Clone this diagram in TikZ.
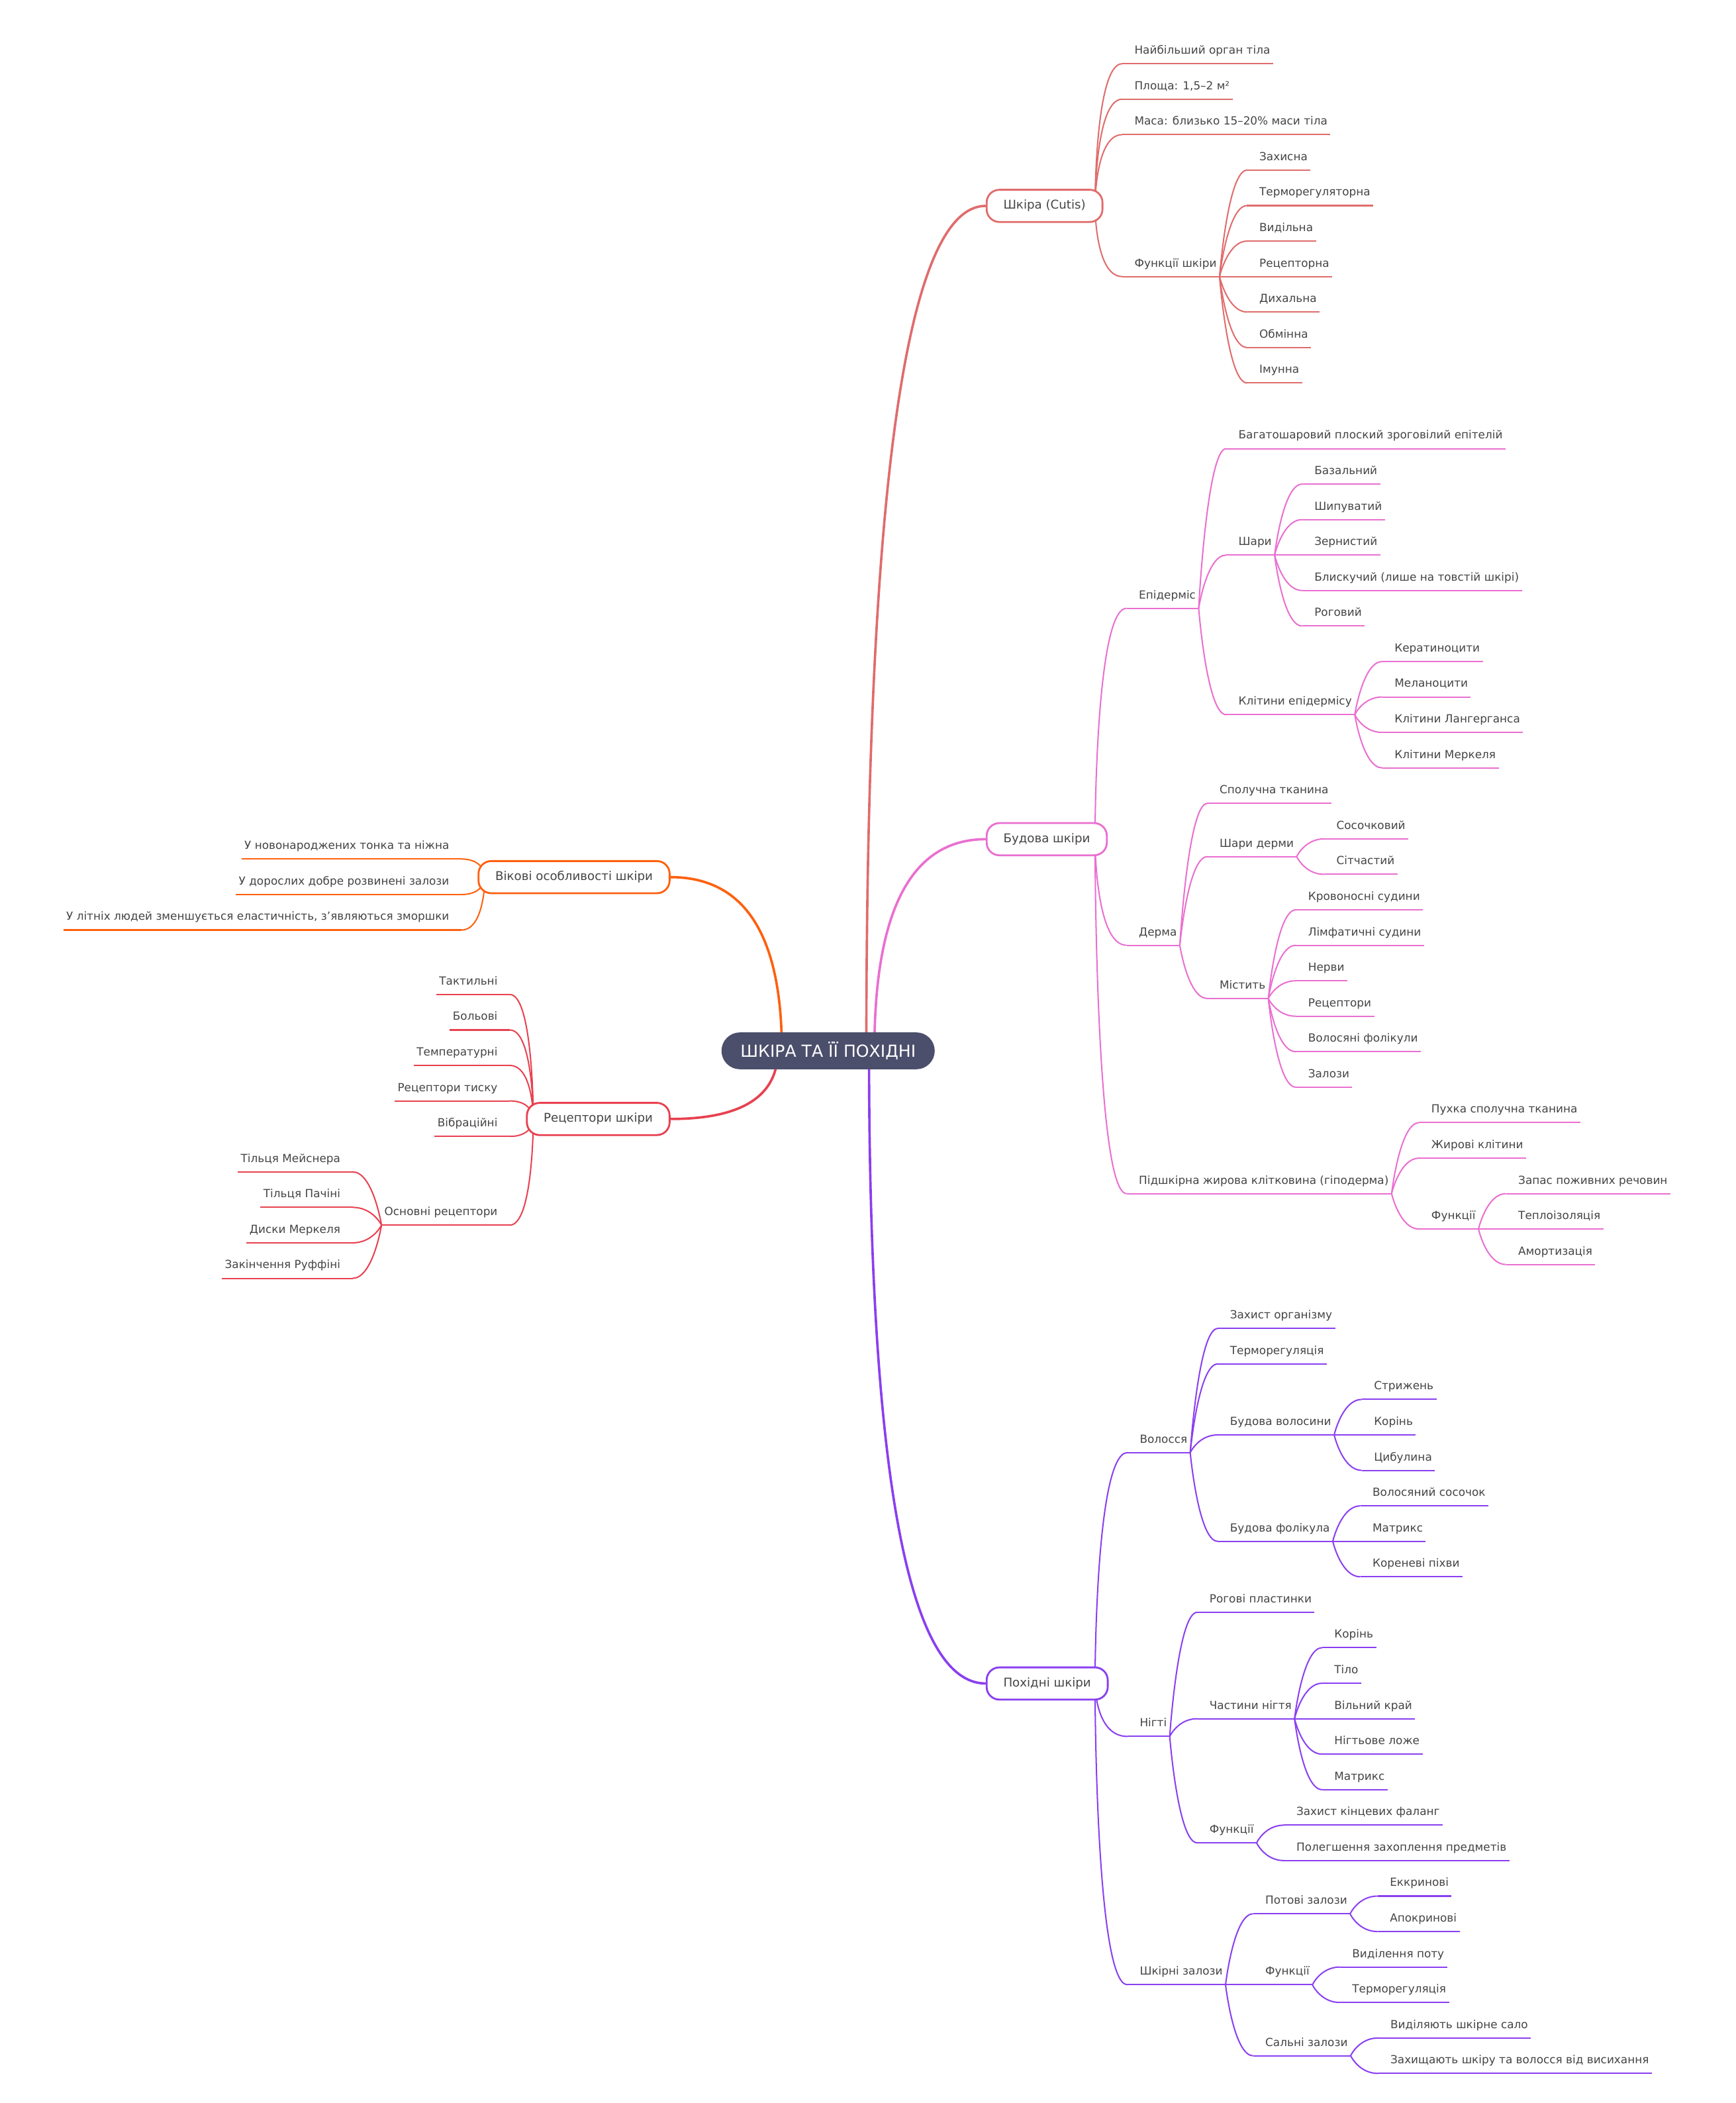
\documentclass[tikz,border=0pt]{standalone}
\usepackage{fontspec}
\setmainfont{DejaVu Sans}
\usetikzlibrary{calc}
\pgfdeclarelayer{fg}
\pgfsetlayers{main,fg}
\definecolor{txt}{HTML}{454545}
\definecolor{cA}{HTML}{E06C6C}
\definecolor{cB}{HTML}{EA6FD0}
\definecolor{cC}{HTML}{8A3FF0}
\definecolor{cD}{HTML}{FE600E}
\definecolor{cE}{HTML}{E84150}
\definecolor{rootfill}{HTML}{4C4F6B}
\tikzset{
 lf/.style={inner sep=0pt, text depth=7pt, font=\fontsize{8.33}{10}\selectfont, text=txt},
 leafr/.style={lf, anchor=south west},
 leafl/.style={lf, anchor=south east},
 thinln/.style={line width=1pt},
 thickln/.style={line width=1.8pt},
 mainbox/.style={draw, fill=white, line width=1.4pt, rounded corners=9.5pt, minimum height=24pt, inner xsep=12.5pt, inner ysep=0pt, font=\fontsize{9}{11}\selectfont, text=txt},
}
% #1 name, #2 parent, #3 base y, #4 row, #5 text, #6 colour
% right child of a main box (links start from a fixed x inside the box)
\newcommand\RFc[6]{%
 \pgfmathsetmacro\yv{-(#3+26.45*(#4))}%
 \path let \p1=(#2.east) in node[leafr] (#1) at (\x1+14pt,\yv pt) {\hspace*{9pt}#5\hspace*{2pt}};
 \draw[thinln,#6] (#1.south west) -- (#1.south east);
 \draw[thinln,#6] let \p1=(#2.center), \p2=(#1.south west) in (816.5pt,\y1) .. controls (816.5pt,\y1) and (816.5pt,\y2) .. (\p2);
}
% right child of a sub node
\newcommand\Rc[6]{%
 \pgfmathsetmacro\yv{-(#3+26.45*(#4))}%
 \path let \p1=(#2.south east) in node[leafr] (#1) at (\x1+20.5pt,\yv pt) {\hspace*{9pt}#5\hspace*{2pt}};
 \draw[thinln,#6] (#1.south west) -- (#1.south east);
 \draw[thinln,#6] let \p1=(#2.south east), \p2=(#1.south west) in (\p1) .. controls (\p1) and ({\x1+0.3*(\x2-\x1)},\y2) .. (\p2);
}
% left child of a main box
\newcommand\LFc[6]{%
 \pgfmathsetmacro\yv{-(#3+26.45*(#4))}%
 \path let \p1=(#2.west) in node[leafl] (#1) at (\x1-12pt,\yv pt) {\hspace*{2pt}#5\hspace*{9pt}};
 \draw[thinln,#6] (#1.south west) -- (#1.south east);
 \draw[thinln,#6] let \p1=(#2.west), \p2=(#1.south east) in (\x1+5.5pt,\y1) .. controls (\x1+5.5pt,\y1) and (\x1+5.5pt,\y2) .. (\p2);
}
% left child of a sub node
\newcommand\Lc[6]{%
 \pgfmathsetmacro\yv{-(#3+26.45*(#4))}%
 \path let \p1=(#2.south west) in node[leafl] (#1) at (\x1-21.5pt,\yv pt) {\hspace*{2pt}#5\hspace*{9pt}};
 \draw[thinln,#6] (#1.south west) -- (#1.south east);
 \draw[thinln,#6] let \p1=(#2.south west), \p2=(#1.south east) in (\p1) .. controls (\p1) and ({\x1+0.3*(\x2-\x1)},\y2) .. (\p2);
}
% main link from root
\newcommand\ML[4]{%
 \draw[thickln,#4] let \p1=(#1), \p2=(#2.#3) in (\p1) .. controls ($(\p1)!0.6667!(\x1,\y2)$) and ($(\p2)!0.6667!(\x1,\y2)$) .. (\p2);
}
\begin{document}
\begin{tikzpicture}[x=1pt,y=1pt]
\fill[white] (0,0) rectangle (1294pt,-1568pt);
\useasboundingbox (0,0) rectangle (1294pt,-1568pt);
\begin{pgfonlayer}{fg}
\node[fill=rootfill, rounded corners=13.75pt, minimum height=27.5pt, minimum width=159pt, inner sep=0pt, text=white, font=\fontsize{12.4}{14}\selectfont] (root) at (617.5pt,-783.5pt) {ШКІРА ТА ЇЇ ПОХІДНІ};
\node[mainbox, draw=cA, anchor=west] (b1) at (735pt,-153.5pt) {Шкіра (Cutis)};
\node[mainbox, draw=cB, anchor=west] (b2) at (735pt,-625.7pt) {Будова шкіри};
\node[mainbox, draw=cC, anchor=west] (b3) at (735pt,-1255.2pt) {Похідні шкіри};
\node[mainbox, draw=cD, anchor=east] (b4) at (500pt,-654pt) {Вікові особливості шкіри};
\node[mainbox, draw=cE, anchor=east] (b5) at (500pt,-834.3pt) {Рецептори шкіри};
\end{pgfonlayer}
\coordinate (s1) at (646pt,-783.5pt);
\coordinate (s2) at (652pt,-783.5pt);
\coordinate (s3) at (648pt,-783.5pt);
\coordinate (s4) at (583pt,-783.5pt);
\coordinate (s5) at (580pt,-783.5pt);
\ML{s1}{b1}{west}{cA}
\ML{s2}{b2}{west}{cB}
\ML{s3}{b3}{west}{cC}
\ML{s4}{b4}{east}{cD}
\ML{s5}{b5}{east}{cE}
% ---- Шкіра (Cutis)
\RFc{a1}{b1}{47.5}{0}{Найбільший орган тіла}{cA}
\RFc{a2}{b1}{47.5}{1}{Площа: 1,5–2 м²}{cA}
\RFc{a3}{b1}{47.5}{2}{Маса: близько 15–20\% маси тіла}{cA}
\RFc{a4}{b1}{47.5}{6}{Функції шкіри}{cA}
\Rc{a41}{a4}{47.5}{3}{Захисна}{cA}
\Rc{a42}{a4}{47.5}{4}{Терморегуляторна}{cA}
\Rc{a43}{a4}{47.5}{5}{Видільна}{cA}
\Rc{a44}{a4}{47.5}{6}{Рецепторна}{cA}
\Rc{a45}{a4}{47.5}{7}{Дихальна}{cA}
\Rc{a46}{a4}{47.5}{8}{Обмінна}{cA}
\Rc{a47}{a4}{47.5}{9}{Імунна}{cA}
% ---- Будова шкіри
\RFc{e1}{b2}{334.5}{4.5}{Епідерміс}{cB}
\Rc{e11}{e1}{334.5}{0}{Багатошаровий плоский зроговілий епітелій}{cB}
\Rc{e12}{e1}{334.5}{3}{Шари}{cB}
\Rc{e121}{e12}{334.5}{1}{Базальний}{cB}
\Rc{e122}{e12}{334.5}{2}{Шипуватий}{cB}
\Rc{e123}{e12}{334.5}{3}{Зернистий}{cB}
\Rc{e124}{e12}{334.5}{4}{Блискучий (лише на товстій шкірі)}{cB}
\Rc{e125}{e12}{334.5}{5}{Роговий}{cB}
\Rc{e13}{e1}{334.5}{7.5}{Клітини епідермісу}{cB}
\Rc{e131}{e13}{334.5}{6}{Кератиноцити}{cB}
\Rc{e132}{e13}{334.5}{7}{Меланоцити}{cB}
\Rc{e133}{e13}{334.5}{8}{Клітини Лангерганса}{cB}
\Rc{e134}{e13}{334.5}{9}{Клітини Меркеля}{cB}
\RFc{d1}{b2}{334.5}{14}{Дерма}{cB}
\Rc{d11}{d1}{334.5}{10}{Сполучна тканина}{cB}
\Rc{d12}{d1}{334.5}{11.5}{Шари дерми}{cB}
\Rc{d121}{d12}{334.5}{11}{Сосочковий}{cB}
\Rc{d122}{d12}{334.5}{12}{Сітчастий}{cB}
\Rc{d13}{d1}{334.5}{15.5}{Містить}{cB}
\Rc{d131}{d13}{334.5}{13}{Кровоносні судини}{cB}
\Rc{d132}{d13}{334.5}{14}{Лімфатичні судини}{cB}
\Rc{d133}{d13}{334.5}{15}{Нерви}{cB}
\Rc{d134}{d13}{334.5}{16}{Рецептори}{cB}
\Rc{d135}{d13}{334.5}{17}{Волосяні фолікули}{cB}
\Rc{d136}{d13}{334.5}{18}{Залози}{cB}
\RFc{h1}{b2}{334.5}{21}{Підшкірна жирова клітковина (гіподерма)}{cB}
\Rc{h11}{h1}{334.5}{19}{Пухка сполучна тканина}{cB}
\Rc{h12}{h1}{334.5}{20}{Жирові клітини}{cB}
\Rc{h13}{h1}{334.5}{22}{Функції}{cB}
\Rc{h131}{h13}{334.5}{21}{Запас поживних речовин}{cB}
\Rc{h132}{h13}{334.5}{22}{Теплоізоляція}{cB}
\Rc{h133}{h13}{334.5}{23}{Амортизація}{cB}
% ---- Похідні шкіри
\RFc{w1}{b3}{990.5}{3.5}{Волосся}{cC}
\Rc{w11}{w1}{990.5}{0}{Захист організму}{cC}
\Rc{w12}{w1}{990.5}{1}{Терморегуляція}{cC}
\Rc{w13}{w1}{990.5}{3}{Будова волосини}{cC}
\Rc{w131}{w13}{990.5}{2}{Стрижень}{cC}
\Rc{w132}{w13}{990.5}{3}{Корінь}{cC}
\Rc{w133}{w13}{990.5}{4}{Цибулина}{cC}
\Rc{w14}{w1}{990.5}{6}{Будова фолікула}{cC}
\Rc{w141}{w14}{990.5}{5}{Волосяний сосочок}{cC}
\Rc{w142}{w14}{990.5}{6}{Матрикс}{cC}
\Rc{w143}{w14}{990.5}{7}{Кореневі піхви}{cC}
\RFc{n1}{b3}{990.5}{11.5}{Нігті}{cC}
\Rc{n11}{n1}{990.5}{8}{Рогові пластинки}{cC}
\Rc{n12}{n1}{990.5}{11}{Частини нігтя}{cC}
\Rc{n121}{n12}{990.5}{9}{Корінь}{cC}
\Rc{n122}{n12}{990.5}{10}{Тіло}{cC}
\Rc{n123}{n12}{990.5}{11}{Вільний край}{cC}
\Rc{n124}{n12}{990.5}{12}{Нігтьове ложе}{cC}
\Rc{n125}{n12}{990.5}{13}{Матрикс}{cC}
\Rc{n13}{n1}{990.5}{14.5}{Функції}{cC}
\Rc{n131}{n13}{990.5}{14}{Захист кінцевих фаланг}{cC}
\Rc{n132}{n13}{990.5}{15}{Полегшення захоплення предметів}{cC}
\RFc{g1}{b3}{990.5}{18.5}{Шкірні залози}{cC}
\Rc{g11}{g1}{990.5}{16.5}{Потові залози}{cC}
\Rc{g111}{g11}{990.5}{16}{Еккринові}{cC}
\Rc{g112}{g11}{990.5}{17}{Апокринові}{cC}
\Rc{g12}{g1}{990.5}{18.5}{Функції}{cC}
\Rc{g121}{g12}{990.5}{18}{Виділення поту}{cC}
\Rc{g122}{g12}{990.5}{19}{Терморегуляція}{cC}
\Rc{g13}{g1}{990.5}{20.5}{Сальні залози}{cC}
\Rc{g131}{g13}{990.5}{20}{Виділяють шкірне сало}{cC}
\Rc{g132}{g13}{990.5}{21}{Захищають шкіру та волосся від висихання}{cC}
% ---- Вікові особливості шкіри
\LFc{v1}{b4}{640.5}{0}{У новонароджених тонка та ніжна}{cD}
\LFc{v2}{b4}{640.5}{1}{У дорослих добре розвинені залози}{cD}
\LFc{v3}{b4}{640.5}{2}{У літніх людей зменшується еластичність, з’являються зморшки}{cD}
% ---- Рецептори шкіри
\LFc{r1}{b5}{741.5}{0}{Тактильні}{cE}
\LFc{r2}{b5}{741.5}{1}{Больові}{cE}
\LFc{r3}{b5}{741.5}{2}{Температурні}{cE}
\LFc{r4}{b5}{741.5}{3}{Рецептори тиску}{cE}
\LFc{r5}{b5}{741.5}{4}{Вібраційні}{cE}
\LFc{r6}{b5}{741.5}{6.5}{Основні рецептори}{cE}
\Lc{r61}{r6}{741.5}{5}{Тільця Мейснера}{cE}
\Lc{r62}{r6}{741.5}{6}{Тільця Пачіні}{cE}
\Lc{r63}{r6}{741.5}{7}{Диски Меркеля}{cE}
\Lc{r64}{r6}{741.5}{8}{Закінчення Руффіні}{cE}
\end{tikzpicture}
\end{document}
